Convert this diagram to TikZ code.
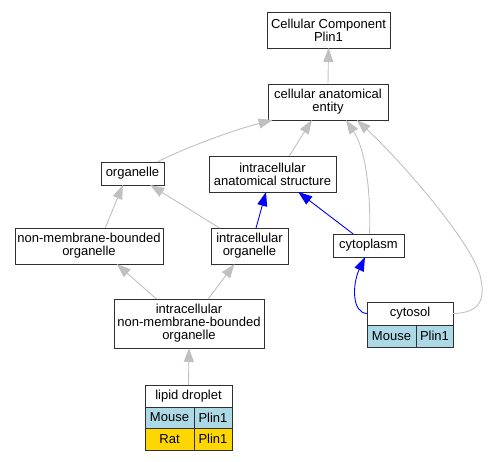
\documentclass[tikz,border=0pt]{standalone}
\usepackage{fontspec}
\setmainfont{Liberation Sans}
\usetikzlibrary{arrows.meta}
\definecolor{isagray}{HTML}{C0C0C0}
\definecolor{mouseblue}{HTML}{ADD8E6}
\definecolor{ratgold}{HTML}{FFD700}
\definecolor{boxline}{HTML}{303030}
\tikzstyle{term} = [rectangle, draw = boxline, line width = 1pt, inner sep = 0pt, outer sep = 0pt, align = center, font = \fontsize{13}{13}\selectfont]
\tikzstyle{cell} = [rectangle, draw = boxline, line width = 0.8pt, inner sep = 0pt, outer sep = 0pt, font = \fontsize{13}{13}\selectfont]
\tikzstyle{isa} = [draw = isagray, line width = 0.9pt, -{Triangle[length=14pt 0 0,width=10pt 0 0]}]
\tikzstyle{partof} = [draw = blue, line width = 0.9pt, -{Triangle[length=14pt 0 0,width=10pt 0 0]}]

\begin{document}
\begin{tikzpicture}[x = 1pt, y = -1pt]
\useasboundingbox (0,0) rectangle (490,461);

% terms
\node(cc)        [term, minimum width = 123pt, minimum height = 36pt] at (328.5,30)  {Cellular Component\\Plin1};
\node(cae)       [term, minimum width = 120pt, minimum height = 36pt] at (328,102)   {cellular anatomical\\entity};
\node(organelle) [term, minimum width = 63pt,  minimum height = 23pt] at (132.5,173.5) {organelle};
\node(ias)       [term, minimum width = 127pt, minimum height = 36pt] at (272.5,174) {intracellular\\anatomical structure};
\node(nmbo)      [term, minimum width = 148pt, minimum height = 36pt] at (89,246)    {non-membrane-bounded\\organelle};
\node(io)        [term, minimum width = 77pt,  minimum height = 36pt] at (249.5,246) {intracellular\\organelle};
\node(cytoplasm) [term, minimum width = 71pt,  minimum height = 23pt] at (368.5,245.5) {cytoplasm};
\node(inmbo)     [term, minimum width = 150pt, minimum height = 49pt] at (189,323.5) {intracellular\\non-membrane-bounded\\organelle};

% cytosol with its table
\node(cytosol)      [cell, minimum width = 86pt, minimum height = 23pt] at (410,313.5) {cytosol};
\node(cytosolmouse) [cell, fill = mouseblue, minimum width = 49pt, minimum height = 22pt] at (391.5,336) {Mouse};
\node(cytosolplin)  [cell, fill = mouseblue, minimum width = 37pt, minimum height = 22pt] at (434.5,336) {Plin1};
\draw [draw = boxline, line width = 1pt] (cytosol.north west) rectangle (cytosolplin.south east);

% lipid droplet with its table
\node(droplet)      [cell, minimum width = 87pt, minimum height = 22pt] at (188.5,396) {lipid droplet};
\node(dropletmouse) [cell, fill = mouseblue, minimum width = 49pt, minimum height = 21pt] at (169.5,417.5) {Mouse};
\node(dropletmplin) [cell, fill = mouseblue, minimum width = 38pt, minimum height = 21pt] at (213,417.5) {Plin1};
\node(dropletrat)   [cell, fill = ratgold, minimum width = 49pt, minimum height = 22pt] at (169.5,439) {Rat};
\node(dropletrplin) [cell, fill = ratgold, minimum width = 38pt, minimum height = 22pt] at (213,439) {Plin1};
\draw [draw = boxline, line width = 1pt] (droplet.north west) rectangle (dropletrplin.south east);

% is_a
\draw [isa] (cae.north) -- (cc.south);
\draw [isa] (organelle.25) .. controls (185,148) and (230,131) .. (cae.198);
\draw [isa] (ias.47) -- (cae.228);
\draw [isa] (cytoplasm.85) .. controls (371,195) and (366,150) .. (cae.315);
\draw [isa] (cytosol.east) .. controls (480,313) and (486,300) .. (480,275) .. controls (470,240) and (400,160) .. (cae.328);
\draw [isa] (nmbo.48) -- (organelle.230);
\draw [isa] (io.149) -- (organelle.327);
\draw [isa] (inmbo.143) -- (nmbo.327);
\draw [isa] (inmbo.52) -- (io.230);
\draw [isa] (droplet.north) -- (inmbo.south);

% part_of
\draw [partof] (io.70) -- (ias.250);
\draw [partof] (cytoplasm.143) -- (ias.325);
\draw [partof] (cytosol.west) .. controls (352,313) and (352,285) .. (cytoplasm.253);

\end{tikzpicture}
\end{document}
